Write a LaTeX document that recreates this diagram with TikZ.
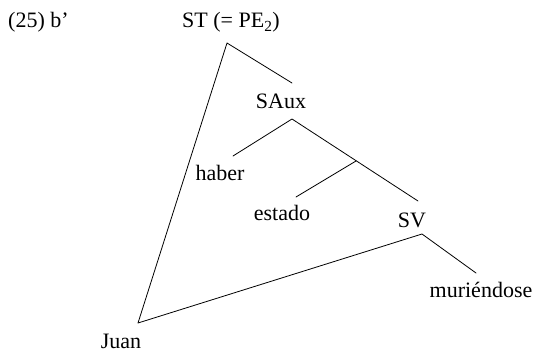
\documentclass[tikz,border=0pt]{standalone}
\usepackage{fontspec}
\setmainfont{Liberation Serif}
\begin{document}
\begin{tikzpicture}[x=1pt,y=-1pt,
  lbl/.style={anchor=base,inner sep=0pt,font=\fontsize{22}{26}\selectfont},
  edge/.style={line width=0.8pt,line cap=round,line join=round}]
\useasboundingbox (0,0) rectangle (540,353);
% labels
\node[lbl,anchor=base west] (ex) at (8,28) {(25) b’};
\node[lbl] (st) at (231,28) {ST (= PE\textsubscript{2})};
\node[lbl] (saux) at (281,108) {SAux};
\node[lbl] (haber) at (220,180) {haber};
\node[lbl] (estado) at (282,220) {estado};
\node[lbl] (sv) at (412,227) {SV};
\node[lbl] (mur) at (481,297) {muriéndose};
\node[lbl] (juan) at (121,348) {Juan};
% tree points
\coordinate (stT) at (227,43);
\coordinate (stR) at (292,83);
\coordinate (sauxT) at (292,119);
\coordinate (haberE) at (233,156);
\coordinate (mid) at (356,161);
\coordinate (estE) at (296,197);
\coordinate (svE) at (418,201);
\coordinate (svT) at (422,234);
\coordinate (murE) at (476,273);
\coordinate (juanP) at (138,323);
% connectors
\draw[edge] (stR) -- (stT) -- (juanP) -- (svT) -- (murE);
\draw[edge] (haberE) -- (sauxT) -- (svE);
\draw[edge] (mid) -- (estE);
\end{tikzpicture}
\end{document}
